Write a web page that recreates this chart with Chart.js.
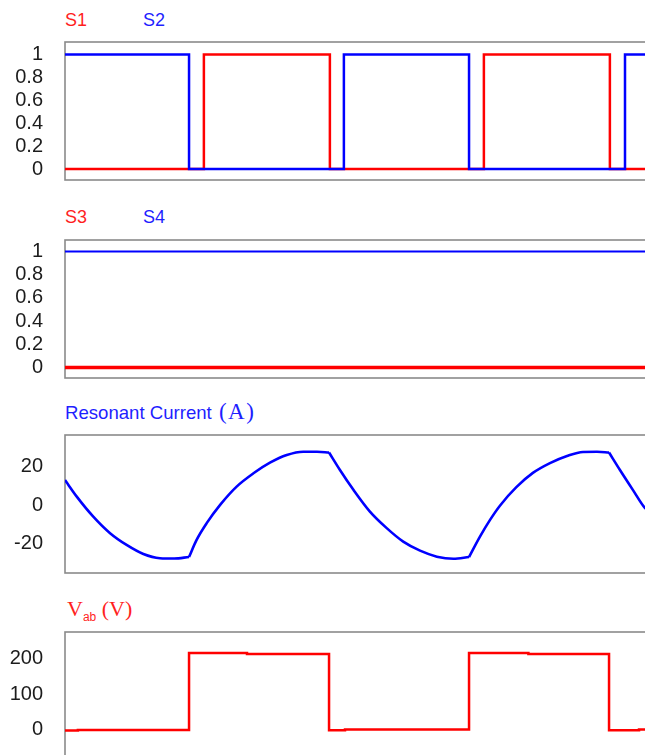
<!DOCTYPE html>
<html>
<head>
<meta charset="utf-8">
<script src="https://cdn.jsdelivr.net/npm/chart.js@4/dist/chart.umd.min.js"></script>
<style>
  html, body { margin: 0; padding: 0; overflow: hidden; background: #fff; width: 645px; height: 755px; }
  canvas { position: absolute; left: 0; }
  .lbl { position: absolute; font-family: 'Liberation Sans', Arial, sans-serif; font-size: 18px; line-height: 18px; white-space: nowrap; }
  .red { color: #ff1f1f; }
  .blue { color: #1f1fff; }
  .serif { font-family: 'Liberation Serif', 'Times New Roman', serif; }
</style>
</head>
<body>
<div class="lbl red" style="left:65px;top:11px">S1</div>
<div class="lbl blue" style="left:143px;top:11px">S2</div>
<canvas id="gateA" width="653" height="142" style="top:40px"></canvas>

<div class="lbl red" style="left:65px;top:208px">S3</div>
<div class="lbl blue" style="left:143px;top:208px">S4</div>
<canvas id="gateB" width="653" height="142" style="top:238px"></canvas>

<div class="lbl blue" style="left:65px;top:403px;font-size:18.6px">Resonant Current <span class="serif" style="font-size:23px;letter-spacing:1.5px;margin-left:2px">(A)</span></div>
<canvas id="current" width="653" height="142" style="top:433px"></canvas>

<div class="lbl red" style="left:67px;top:600px"><span class="serif" style="font-size:22px">V</span><span style="font-size:12px;position:relative;top:5px">ab</span><span class="serif" style="font-size:22px"> (V)</span></div>
<canvas id="vab" width="653" height="142" style="top:630px"></canvas>

<script>
// time axis, µs
const T_END = 21;

// gate signals S1..S4: switching instants and logic levels
const s1Time  = [0, 4.96, 9.46, 14.96, 19.46, 21];
const s1Level = [0, 1,    0,    1,     0,     0];
const s2Time  = [0, 4.43, 9.96, 14.43, 20.0, 21];
const s2Level = [1, 0,    1,    0,     1,    1];
const s3Time  = [0, 21];
const s3Level = [0, 0];
const s4Time  = [0, 21];
const s4Level = [1, 1];

// resonant tank current, A
const iTime  = [0, 0.42, 1.01, 1.61, 2.20, 2.80, 3.39, 3.90, 4.43,
                4.70, 5.06, 5.54, 6.13, 6.73, 7.32, 7.92, 8.51, 9.00, 9.43,
                9.82, 10.30, 10.89, 11.49, 12.08, 12.68, 13.28, 13.87, 14.43,
                14.82, 15.18, 15.54, 16.12, 16.71, 17.32, 17.93, 18.50, 19.00, 19.43,
                19.82, 20.28, 20.71, 21.0];
const iValue = [13.2, 4.6, -5.8, -14.4, -20.5, -25.2, -27.4, -27.6, -26.8,
                -17.9, -9.2, 0.3, 9.8, 16.7, 22.2, 26.2, 27.9, 27.9, 27.5,
                18.4, 8.1, -3.2, -11.8, -18.8, -23.5, -26.6, -27.7, -26.8,
                -16.2, -7.5, 0.0, 9.5, 16.9, 22.0, 25.7, 27.8, 27.9, 27.5,
                18.4, 8.1, -1.3, -4.5];
// instants where the bridge commutates and the current slope breaks
const iKinks = [4.43, 9.43, 14.43, 19.43];

// bridge voltage Vab, V
const vabTime  = [0, 0.46, 4.43, 6.50, 9.43, 10.0, 14.43, 16.55, 19.43, 20.5, 21];
const vabValue = [-2, 0,   217,  214,  -1,   1,    217,   214,   -1,    1,    1];

// y-axis ticks
const switchTicks  = [0, 0.2, 0.4, 0.6, 0.8, 1];
const currentTicks = [-20, 0, 20];
const vabTicks     = [0, 100, 200];

const RED = '#ff0000';
const BLUE = '#0000ff';

const pts = (xs, ys) => xs.map((x, i) => ({ x: x, y: ys[i] }));

// split a waveform at the commutation instants so every half cycle is
// smoothed on its own and the corners stay sharp
function halfCycles(xs, ys, cuts) {
  const out = [];
  let cur = [];
  xs.forEach((x, i) => {
    cur.push({ x: x, y: ys[i] });
    if (cuts.includes(x)) { out.push(cur); cur = [{ x: x, y: ys[i] }]; }
  });
  if (cur.length > 1) out.push(cur);
  return out;
}

// grey frame around the plotting area
const frame = {
  id: 'frame',
  beforeDatasetsDraw(chart) {
    const { ctx, chartArea: a } = chart;
    ctx.save();
    ctx.strokeStyle = '#8a8a8a';
    ctx.lineWidth = 1.6;
    ctx.strokeRect(a.left, a.top, a.right - a.left, a.bottom - a.top);
    ctx.restore();
  }
};

function panel(id, datasets, yMin, yMax, ticks) {
  return new Chart(document.getElementById(id), {
    type: 'line',
    data: { datasets: datasets },
    options: {
      responsive: false,
      animation: false,
      events: [],
      layout: { padding: { top: 2, bottom: 2, left: 0, right: 0 } },
      plugins: { legend: { display: false }, tooltip: { enabled: false } },
      elements: { point: { radius: 0 } },
      scales: {
        x: { type: 'linear', min: 0, max: T_END, display: false },
        y: {
          min: yMin,
          max: yMax,
          afterBuildTicks: s => { s.ticks = ticks.map(v => ({ value: v })); },
          afterFit: s => { s.width = 65; s.paddingTop = 0; s.paddingBottom = 0; },
          grid: { display: false, drawTicks: false },
          border: { display: false },
          ticks: {
            autoSkip: false,
            padding: 22,
            color: '#1c1c1c',
            font: { family: "'Liberation Sans', Arial, sans-serif", size: 20 },
            callback: v => String(v)
          }
        }
      }
    },
    plugins: [frame]
  });
}

panel('gateA', [
  { data: pts(s2Time, s2Level), borderColor: BLUE, borderWidth: 2.5, stepped: true, order: 0 },
  { data: pts(s1Time, s1Level), borderColor: RED,  borderWidth: 2.5, stepped: true, order: 1 }
], -0.095, 1.11, switchTicks);

panel('gateB', [
  { data: pts(s4Time, s4Level), borderColor: BLUE, borderWidth: 2, order: 0 },
  { data: pts(s3Time, s3Level), borderColor: RED,  borderWidth: 3.5, order: 1 }
], -0.09, 1.10, switchTicks);

panel('current',
  halfCycles(iTime, iValue, iKinks).map(seg => ({
    data: seg, borderColor: BLUE, borderWidth: 2.6, cubicInterpolationMode: 'monotone'
  })),
  -35.1, 36.6, currentTicks);

panel('vab', [
  { data: pts(vabTime, vabValue), borderColor: RED, borderWidth: 2.5, stepped: true }
], -113, 276, vabTicks);
</script>
</body>
</html>
